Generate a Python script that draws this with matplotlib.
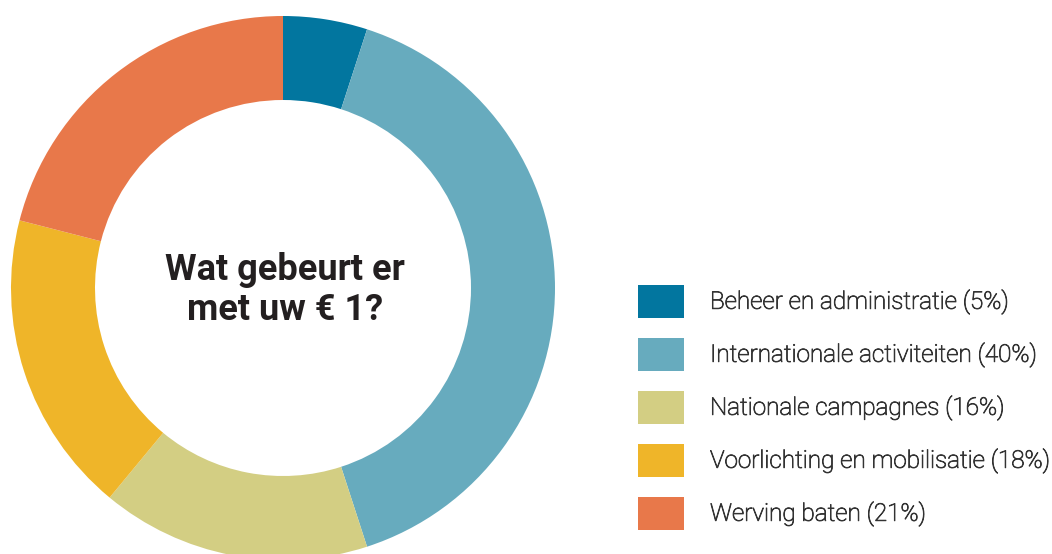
import matplotlib

matplotlib.use("Agg")

import matplotlib.pyplot as plt
import matplotlib.patheffects as pe
from matplotlib.patches import Rectangle

plt.rcParams["font.family"] = ["Roboto", "DejaVu Sans"]

CATEGORIES = [
    "Beheer en administratie",
    "Internationale activiteiten",
    "Nationale campagnes",
    "Voorlichting en mobilisatie",
    "Werving baten",
]
SHARES = [5, 40, 16, 18, 21]
COLORS = ["#02769f", "#67abbe", "#d3ce83", "#efb529", "#e8784a"]
CENTER_TEXT = "Wat gebeurt er\nmet uw € 1?"

W, H = 1052, 554


def main() -> None:
    fig = plt.figure(figsize=(W / 100, H / 100), dpi=100)
    ax = fig.add_axes([0, 0, 1, 1])

    cx, cy, r_out, r_in = 283, H - 288, 272, 188
    ax.pie(
        SHARES,
        colors=COLORS,
        startangle=90,
        counterclock=False,
        center=(cx, cy),
        radius=r_out,
        wedgeprops={"width": r_out - r_in, "linewidth": 0},
        frame=True,
    )
    ax.set_xlim(0, W)
    ax.set_ylim(0, H)
    ax.set_aspect("equal")
    ax.axis("off")

    ax.text(
        cx + 2, cy - 2, CENTER_TEXT,
        ha="center", va="center", fontsize=26, fontweight="bold",
        color="#231f20", linespacing=1.15,
    )

    # legend drawn by hand
    for i, (label, share, color) in enumerate(zip(CATEGORIES, SHARES, COLORS)):
        top = 285 + i * 53
        ax.add_patch(Rectangle((638, H - top - 33), 46, 33, facecolor=color, edgecolor="none"))
        ax.text(
            710, H - top - 17, f"{label} ({share}%)",
            ha="left", va="center", fontsize=17.5, fontweight="light", color="#333333",
            path_effects=[pe.withStroke(linewidth=0.6, foreground="#333333")],
        )

    fig.savefig("out.png", dpi=100, facecolor="white")
    plt.close(fig)


if __name__ == "__main__":
    main()
